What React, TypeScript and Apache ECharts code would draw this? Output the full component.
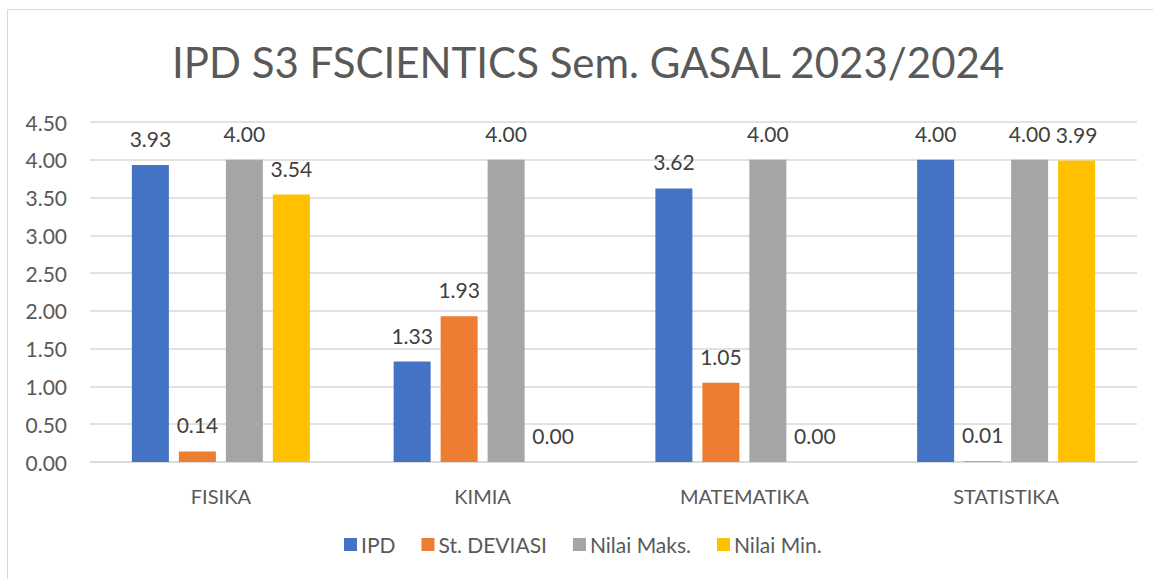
import React, { useEffect, useRef } from "react";
import * as echarts from "echarts";

const categories = ["FISIKA", "KIMIA", "MATEMATIKA", "STATISTIKA"];
const ipd = [3.93, 1.33, 3.62, 4.0];
const stDeviasi = [0.14, 1.93, 1.05, 0.01];
const nilaiMaks = [4.0, 4.0, 4.0, 4.0];
const nilaiMin = [3.54, 0.0, 0.0, 3.99];
const seriesNames = ["IPD", "St. DEVIASI", "Nilai Maks.", "Nilai Min."];
const colors = ["#4472C4", "#ED7D31", "#A5A5A5", "#FFC000"];
const titleText = "IPD S3 FSCIENTICS Sem. GASAL 2023/2024";

const FONT = "Lato";

export default function App() {
  const ref = useRef<HTMLDivElement>(null);
  useEffect(() => {
    if (!ref.current) return;
    const chart = echarts.init(ref.current, undefined, { renderer: "svg" });
    const data = [ipd, stDeviasi, nilaiMaks, nilaiMin];
    chart.setOption({
      animation: false,
      backgroundColor: "#ffffff",
      textStyle: { fontFamily: FONT },
      title: {
        text: titleText,
        left: 167,
        top: 36,
        textStyle: { fontFamily: FONT, fontSize: 42, fontWeight: "normal", color: "#595959" },
      },
      graphic: [
        {
          type: "rect",
          shape: { x: 7.5, y: 9.5, width: 1200, height: 700 },
          style: { fill: "none", stroke: "#d9d9d9", lineWidth: 1 },
          silent: true,
        },
      ],
      legend: {
        bottom: 19,
        left: 339,
        itemWidth: 13,
        itemHeight: 13,
        itemGap: 26,
        icon: "rect",
        textStyle: { fontFamily: FONT, fontSize: 21, color: "#595959", padding: [0, 0, 0, -1] },
        data: seriesNames,
      },
      grid: { left: 90, right: 16, top: 122, bottom: 117, containLabel: false },
      xAxis: {
        type: "category",
        data: categories,
        axisLine: { lineStyle: { color: "#d9d9d9", width: 1.5 } },
        axisTick: { show: false },
        axisLabel: { fontFamily: FONT, fontSize: 20, color: "#595959", margin: 24 },
      },
      yAxis: {
        type: "value",
        min: 0,
        max: 4.5,
        interval: 0.5,
        axisLine: { show: false },
        axisTick: { show: false },
        splitLine: { lineStyle: { color: "#d9d9d9", width: 1.5 } },
        axisLabel: {
          fontFamily: FONT,
          fontSize: 21,
          color: "#595959",
          margin: 23,
          formatter: (v: number) => v.toFixed(2),
        },
      },
      series: seriesNames.map((name, i) => ({
        name,
        type: "bar",
        data: data[i],
        barWidth: 37,
        barGap: "27%",
        itemStyle: { color: colors[i] },
        label: {
          show: true,
          position: "top",
          distance: 16,
          fontFamily: FONT,
          fontSize: 21,
          color: "#404040",
          formatter: (p: any) => Number(p.value).toFixed(2),
        },
      })),
    });
    return () => chart.dispose();
  }, []);
  return (
    <div
      ref={ref}
      style={{ position: "fixed", left: 0, top: 0, width: 1153, height: 579 }}
    />
  );
}
